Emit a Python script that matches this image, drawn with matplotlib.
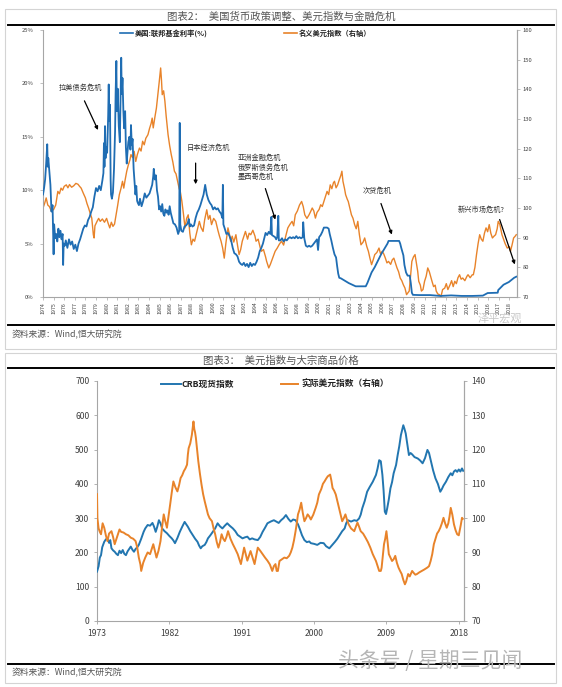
import matplotlib
matplotlib.use('Agg')
import matplotlib.pyplot as plt
from matplotlib.patches import Rectangle
from matplotlib.lines import Line2D

plt.rcParams['font.family'] = ['Noto Sans CJK SC', 'DejaVu Sans']

# ---------------- Data: chart 2 (Fed funds rate & nominal dollar index) ----------------
fed_year = [1974.0, 1974.1, 1974.2, 1974.3, 1974.4, 1974.45, 1974.5, 1974.6, 1974.7, 1974.8, 1974.9,
            1975.0, 1975.05, 1975.15, 1975.25, 1975.35, 1975.45, 1975.55, 1975.65, 1975.75, 1975.85,
            1975.9, 1975.95, 1976.05, 1976.15, 1976.3, 1976.45, 1976.6, 1976.75, 1976.9, 1977.05,
            1977.2, 1977.35, 1977.5, 1977.65, 1977.8, 1977.95, 1978.1, 1978.25, 1978.4, 1978.55,
            1978.7, 1978.85, 1979.0, 1979.15, 1979.3, 1979.45, 1979.6, 1979.7, 1979.75, 1979.8,
            1979.85, 1979.9, 1979.95, 1980.05, 1980.15, 1980.2, 1980.25, 1980.32, 1980.38, 1980.42,
            1980.5, 1980.6, 1980.7, 1980.8, 1980.85, 1980.92, 1980.97, 1981.05, 1981.15, 1981.25,
            1981.32, 1981.38, 1981.43, 1981.5, 1981.58, 1981.65, 1981.75, 1981.82, 1981.9, 1981.95,
            1982.05, 1982.15, 1982.25, 1982.3, 1982.38, 1982.45, 1982.55, 1982.65, 1982.72, 1982.8,
            1982.88, 1982.95, 1983.05, 1983.15, 1983.3, 1983.45, 1983.6, 1983.75, 1983.9, 1984.05,
            1984.2, 1984.3, 1984.4, 1984.45, 1984.55, 1984.65, 1984.75, 1984.85, 1984.95, 1985.05,
            1985.15, 1985.25, 1985.35, 1985.45, 1985.55, 1985.65, 1985.75, 1985.85, 1985.95, 1986.05,
            1986.15, 1986.3, 1986.45, 1986.6, 1986.75, 1986.85, 1986.9, 1986.95, 1987.05, 1987.2,
            1987.35, 1987.5, 1987.65, 1987.75, 1987.85, 1987.95, 1988.1, 1988.25, 1988.4, 1988.55,
            1988.7, 1988.85, 1989.0, 1989.15, 1989.3, 1989.45, 1989.6, 1989.75, 1989.9, 1990.05,
            1990.2, 1990.35, 1990.5, 1990.65, 1990.8, 1990.92, 1990.97, 1991.02, 1991.15, 1991.3,
            1991.45, 1991.6, 1991.75, 1991.9, 1992.05, 1992.2, 1992.35, 1992.5, 1992.65, 1992.8,
            1992.95, 1993.1, 1993.25, 1993.4, 1993.55, 1993.7, 1993.85, 1994.0, 1994.15, 1994.3,
            1994.45, 1994.6, 1994.75, 1994.9, 1995.0, 1995.15, 1995.3, 1995.45, 1995.55, 1995.6,
            1995.75, 1995.9, 1996.0, 1996.1, 1996.2, 1996.25, 1996.4, 1996.55, 1996.7, 1996.85,
            1997.0, 1997.15, 1997.3, 1997.45, 1997.6, 1997.75, 1997.9, 1998.05, 1998.2, 1998.35,
            1998.5, 1998.55, 1998.65, 1998.8, 1998.95, 1999.1, 1999.25, 1999.4, 1999.55, 1999.7,
            1999.85, 1999.95, 2000.05, 2000.2, 2000.35, 2000.5, 2000.65, 2000.8, 2000.95, 2001.05,
            2001.2, 2001.35, 2001.5, 2001.65, 2001.75, 2001.85, 2001.95, 2002.1, 2002.85, 2003.5,
            2004.45, 2004.6, 2004.8, 2005.0, 2005.3, 2005.6, 2005.9, 2006.2, 2006.5, 2006.6,
            2007.6, 2007.7, 2007.8, 2008.0, 2008.1, 2008.25, 2008.4, 2008.6, 2008.7, 2008.8,
            2008.9, 2009.5, 2010.5, 2011.5, 2012.5, 2013.5, 2014.5, 2015.5, 2015.95, 2016.9,
            2016.95, 2017.2, 2017.45, 2017.95, 2018.2, 2018.45, 2018.65]
fed_rate = [9.6, 10.2, 11.0, 12.5, 14.3, 12.2, 13.0, 11.8, 10.5, 8.0, 8.6,
            4.0, 6.8, 5.5, 5.9, 5.2, 6.4, 5.6, 6.2, 5.4, 5.9,
            3.0, 5.0, 4.8, 5.3, 4.6, 5.4, 4.9, 5.2, 4.5, 4.9,
            4.3, 5.0, 5.4, 5.9, 6.4, 6.7, 6.6, 7.2, 7.5, 8.0,
            8.4, 9.4, 10.2, 9.9, 10.4, 10.0, 10.9, 11.6, 14.4, 12.2,
            16.0, 13.0, 14.0, 13.5, 17.0, 19.9, 16.5, 18.0, 11.0, 9.6,
            9.2, 9.8, 12.0, 15.5, 19.0, 22.1, 17.4, 19.5, 16.0, 14.5,
            18.5, 22.4, 19.0, 20.5, 17.5, 15.8, 17.4, 14.0, 12.5, 13.3,
            14.5, 15.0, 13.8, 16.1, 14.2, 14.8, 12.0, 10.5, 9.6, 10.4,
            9.0, 8.8, 8.6, 9.2, 8.5, 9.0, 9.7, 9.3, 9.5, 9.7,
            10.2, 10.5, 11.3, 12.0, 11.0, 11.4, 10.0, 9.4, 8.2, 8.5,
            8.0, 8.7, 7.8, 7.6, 8.2, 7.9, 8.1, 7.7, 8.5, 7.9,
            7.5, 6.9, 6.8, 6.5, 5.9, 6.2, 16.3, 6.8, 6.2, 6.1,
            6.6, 6.7, 6.9, 7.3, 6.6, 6.8, 6.6, 6.7, 7.4, 7.9,
            8.2, 8.6, 9.1, 9.6, 10.5, 9.6, 9.1, 8.8, 8.6, 8.2,
            8.4, 8.2, 8.3, 8.0, 7.8, 7.4, 10.5, 6.8, 6.4, 5.9,
            6.0, 5.7, 5.3, 4.6, 4.1, 4.0, 3.8, 3.3, 3.1, 3.0,
            3.2, 2.9, 3.1, 2.8, 3.2, 2.9, 3.1, 3.0, 3.3, 3.7,
            4.3, 4.6, 5.0, 5.6, 6.0, 5.8, 6.1, 5.9, 7.5, 5.8,
            5.7, 5.6, 5.4, 5.6, 7.6, 5.3, 5.3, 5.5, 5.2, 5.4,
            5.3, 5.5, 5.6, 5.5, 5.6, 5.5, 5.7, 5.5, 5.6, 5.5,
            5.6, 7.0, 5.5, 4.8, 4.7, 4.8, 4.7, 4.8, 5.0, 5.2,
            5.4, 4.4, 5.6, 5.8, 6.1, 6.5, 6.5, 6.5, 6.4, 5.9,
            5.3, 4.6, 4.0, 3.7, 2.9, 2.2, 1.8, 1.75, 1.3, 1.0,
            1.0, 1.3, 1.8, 2.3, 2.8, 3.4, 4.0, 4.5, 5.0, 5.25,
            5.25, 5.0, 4.6, 3.9, 3.0, 2.3, 2.0, 2.0, 1.3, 0.4,
            0.2, 0.18, 0.18, 0.1, 0.15, 0.1, 0.1, 0.13, 0.37, 0.4,
            0.65, 0.9, 1.15, 1.4, 1.6, 1.8, 1.9]

usd_year = [1974.0, 1974.15, 1974.3, 1974.45, 1974.6, 1974.8, 1975.0, 1975.2, 1975.4, 1975.55,
            1975.7, 1975.85, 1976.0, 1976.2, 1976.35, 1976.5, 1976.7, 1976.9, 1977.1, 1977.3,
            1977.45, 1977.6, 1977.8, 1978.0, 1978.15, 1978.3, 1978.45, 1978.6, 1978.75, 1978.82,
            1978.9, 1979.1, 1979.25, 1979.4, 1979.6, 1979.8, 1980.0, 1980.15, 1980.3, 1980.45,
            1980.6, 1980.75, 1980.9, 1981.05, 1981.2, 1981.35, 1981.5, 1981.62, 1981.75, 1981.9,
            1982.05, 1982.2, 1982.3, 1982.45, 1982.6, 1982.75, 1982.9, 1983.1, 1983.25, 1983.4,
            1983.55, 1983.7, 1983.9, 1984.05, 1984.2, 1984.3, 1984.4, 1984.55, 1984.7, 1984.85,
            1984.95, 1985.1, 1985.18, 1985.25, 1985.38, 1985.5, 1985.62, 1985.8, 1985.95, 1986.1,
            1986.25, 1986.4, 1986.55, 1986.7, 1986.85, 1986.95, 1987.1, 1987.25, 1987.4, 1987.55,
            1987.7, 1987.85, 1988.0, 1988.15, 1988.3, 1988.45, 1988.6, 1988.75, 1988.9, 1989.1,
            1989.25, 1989.45, 1989.6, 1989.75, 1989.9, 1990.1, 1990.3, 1990.5, 1990.65, 1990.8,
            1990.95, 1991.1, 1991.25, 1991.45, 1991.6, 1991.7, 1991.85, 1992.0, 1992.2, 1992.35,
            1992.5, 1992.65, 1992.8, 1992.95, 1993.1, 1993.3, 1993.45, 1993.6, 1993.8, 1994.0,
            1994.1, 1994.3, 1994.5, 1994.6, 1994.8, 1995.0, 1995.1, 1995.3, 1995.45, 1995.6,
            1995.75, 1995.9, 1996.1, 1996.3, 1996.5, 1996.7, 1996.9, 1997.1, 1997.3, 1997.5,
            1997.65, 1997.8, 1998.0, 1998.2, 1998.4, 1998.55, 1998.7, 1998.9, 1999.1, 1999.25,
            1999.4, 1999.55, 1999.7, 1999.85, 2000.05, 2000.2, 2000.35, 2000.5, 2000.65, 2000.8,
            2000.95, 2001.1, 2001.25, 2001.4, 2001.5, 2001.65, 2001.8, 2001.95, 2002.1, 2002.2,
            2002.3, 2002.45, 2002.55, 2002.7, 2002.8, 2002.95, 2003.1, 2003.25, 2003.4, 2003.55,
            2003.7, 2003.85, 2004.0, 2004.2, 2004.35, 2004.55, 2004.7, 2004.85, 2005.0, 2005.15,
            2005.3, 2005.5, 2005.7, 2005.85, 2006.0, 2006.15, 2006.3, 2006.45, 2006.6, 2006.8,
            2006.95, 2007.1, 2007.25, 2007.4, 2007.55, 2007.7, 2007.85, 2008.0, 2008.15, 2008.3,
            2008.45, 2008.55, 2008.65, 2008.8, 2008.95, 2009.1, 2009.25, 2009.35, 2009.45, 2009.6,
            2009.7, 2009.85, 2010.0, 2010.15, 2010.3, 2010.45, 2010.6, 2010.7, 2010.85, 2011.0,
            2011.1, 2011.25, 2011.4, 2011.55, 2011.7, 2011.9, 2012.05, 2012.2, 2012.4, 2012.55,
            2012.7, 2012.85, 2013.0, 2013.15, 2013.3, 2013.45, 2013.6, 2013.8, 2014.0, 2014.1,
            2014.3, 2014.5, 2014.6, 2014.75, 2014.9, 2015.05, 2015.2, 2015.35, 2015.5, 2015.65,
            2015.8, 2015.95, 2016.1, 2016.25, 2016.4, 2016.55, 2016.7, 2016.85, 2016.95, 2017.1,
            2017.3, 2017.45, 2017.6, 2017.8, 2018.0, 2018.1, 2018.25, 2018.4, 2018.55, 2018.65]
usd_index = [100, 101.5, 103.4, 101, 100.5, 98.9, 99.5, 101, 105.6, 104.8,
             106.7, 106, 107.3, 107.8, 106.8, 107.9, 107, 107.5, 108.3, 108,
             107.3, 106.7, 105, 103.4, 101.5, 100, 98.2, 96.6, 91, 89.9,
             94, 95.5, 96.5, 95.5, 96.3, 95.2, 96.5, 94.8, 93.3, 95.2,
             93.8, 94.6, 97.7, 101, 104.5, 106.5, 109, 106.7, 109.5, 112.4,
             114.5, 116.2, 118, 117, 119.1, 115.7, 118, 120.2, 119.2, 122.5,
             121.3, 123.5, 124.7, 126.8, 128.5, 130.3, 127, 130.5, 133.7, 138.5,
             142, 147.2, 143, 138.2, 139.5, 136, 131, 124.7, 121, 118,
             115.5, 112.4, 111.5, 109, 106.5, 105.6, 102.3, 98, 93.3, 96.5,
             97.7, 91.5, 87.6, 89.5, 88.8, 91, 93.3, 95.5, 93.5, 92.1,
             96, 99.4, 96.2, 97.5, 94.4, 96.5, 95.5, 92.5, 90.5, 88.8,
             86.5, 83.1, 88, 93.3, 91, 88.8, 90.5, 88.5, 91, 87.5,
             84.3, 86, 88.8, 90.5, 92.1, 89.5, 91.5, 91, 92.5, 90.5,
             88.8, 89.5, 86.5, 85.4, 86, 83.5, 82, 79.8, 81, 82.5,
             84, 85.4, 86.5, 87.8, 88.8, 87.5, 90.5, 93.3, 94.5, 95.5,
             94, 97.7, 99, 101, 102.2, 100.5, 97.7, 96.5, 97.7, 98.8,
             100, 99, 96.6, 98.5, 99.5, 101.1, 100.5, 102.2, 104, 105.6,
             104.5, 107.8, 106.5, 108.5, 109, 106.8, 107.8, 109.5, 111, 112.4,
             109, 106.5, 104.5, 103, 102.2, 100, 97.7, 96.5, 94.4, 93,
             95.5, 91, 87.6, 88.5, 89.9, 87, 85.4, 83, 80.9, 82.5,
             84.3, 85, 86.5, 84.5, 85.4, 84.5, 83.1, 81.5, 82, 81,
             82.5, 83.1, 81.5, 79.8, 78.5, 76.4, 75.5, 74.1, 73, 70.8,
             71.5, 72, 76, 82, 83.5, 84.3, 81, 78.7, 75.3, 74,
             72, 72.5, 75.3, 77, 79.8, 78.5, 76.5, 75.3, 73.5, 74,
             72, 71, 70.8, 70.2, 72.5, 73, 74.5, 72.5, 74.1, 75.5,
             73.5, 75.3, 74.5, 76.5, 77.5, 76, 76.4, 75.5, 77, 77.5,
             76.5, 77.5, 77.5, 80, 84.3, 88, 91, 89.5, 88.8, 91.5,
             93.3, 92, 94.4, 91.5, 89.9, 90.5, 91, 93, 95.5, 94.5,
             91, 89.5, 88, 86.5, 87, 85.4, 87.5, 89.9, 90.5, 91]

year_labels_1 = [str(y) for y in range(1974, 2019)]

# ---------------- Data: chart 3 (CRB spot index & real dollar index) ----------------
crb_year = [1973.0, 1973.2, 1973.35, 1973.5, 1973.65, 1973.8, 1973.9, 1974.1, 1974.3, 1974.5,
            1974.65, 1974.8, 1975.0, 1975.2, 1975.4, 1975.6, 1975.8, 1976.0, 1976.2, 1976.4,
            1976.6, 1976.8, 1977.0, 1977.2, 1977.4, 1977.6, 1977.8, 1978.0, 1978.2, 1978.5,
            1978.8, 1979.0, 1979.3, 1979.6, 1979.9, 1980.1, 1980.3, 1980.5, 1980.7, 1980.9,
            1981.1, 1981.4, 1981.7, 1982.0, 1982.3, 1982.5, 1982.7, 1983.0, 1983.3, 1983.6,
            1983.9, 1984.1, 1984.3, 1984.6, 1984.9, 1985.2, 1985.5, 1985.7, 1985.9, 1986.1,
            1986.4, 1986.6, 1986.8, 1987.1, 1987.4, 1987.7, 1988.0, 1988.3, 1988.6, 1988.9,
            1989.2, 1989.5, 1989.9, 1990.2, 1990.5, 1990.8, 1991.1, 1991.4, 1991.7, 1992.0,
            1992.3, 1992.6, 1993.0, 1993.3, 1993.6, 1993.9, 1994.2, 1994.6, 1995.0, 1995.3,
            1995.6, 1995.9, 1996.2, 1996.5, 1996.8, 1997.1, 1997.4, 1997.7, 1998.0, 1998.2,
            1998.5, 1998.8, 1999.1, 1999.4, 1999.6, 2000.0, 2000.4, 2000.8, 2001.2, 2001.5,
            2001.9, 2002.2, 2002.6, 2002.9, 2003.2, 2003.5, 2003.8, 2004.0, 2004.2, 2004.6,
            2005.0, 2005.3, 2005.6, 2005.8, 2006.0, 2006.3, 2006.6, 2006.9, 2007.3, 2007.7,
            2007.9, 2008.1, 2008.3, 2008.5, 2008.65, 2008.8, 2008.95, 2009.1, 2009.3, 2009.5,
            2009.7, 2009.9, 2010.2, 2010.4, 2010.6, 2010.8, 2011.0, 2011.1, 2011.25, 2011.4,
            2011.6, 2011.8, 2012.0, 2012.2, 2012.5, 2012.9, 2013.2, 2013.5, 2013.8, 2014.1,
            2014.3, 2014.5, 2014.8, 2015.1, 2015.4, 2015.7, 2015.9, 2016.1, 2016.4, 2016.7,
            2017.0, 2017.2, 2017.4, 2017.6, 2017.8, 2018.0, 2018.2, 2018.4, 2018.55]
crb_index = [144, 160, 185, 192, 215, 225, 231, 238, 241, 228,
             236, 212, 206, 202, 196, 192, 205, 198, 207, 196,
             192, 203, 210, 217, 208, 202, 210, 215, 222, 240,
             260, 270, 280, 278, 286, 275, 260, 275, 294, 285,
             270, 262, 256, 248, 241, 235, 227, 242, 260, 275,
             289, 282, 275, 262, 251, 240, 231, 220, 212, 218,
             222, 230, 241, 250, 260, 270, 285, 276, 270, 278,
             285, 278, 270, 262, 251, 246, 241, 244, 246, 238,
             241, 238, 236, 245, 260, 272, 285, 290, 294, 290,
             286, 294, 300, 309, 298, 290, 296, 294, 282, 270,
             250, 236, 230, 232, 227, 225, 222, 228, 227, 218,
             212, 220, 231, 240, 251, 262, 270, 285, 294, 290,
             294, 292, 299, 310, 329, 350, 377, 390, 406, 426,
             445, 469, 466, 426, 380, 319, 312, 329, 355, 387,
             405, 431, 455, 484, 510, 542, 562, 571, 560, 547,
             515, 484, 490, 486, 478, 474, 468, 460, 475, 499,
             490, 470, 440, 416, 400, 377, 385, 395, 406, 420,
             431, 425, 436, 440, 435, 442, 436, 445, 438]

rdx_year = [1973.0, 1973.05, 1973.2, 1973.35, 1973.5, 1973.7, 1973.9, 1974.1, 1974.3, 1974.5,
            1974.8, 1975.0, 1975.2, 1975.5, 1975.8, 1976.0, 1976.3, 1976.6, 1976.9, 1977.2,
            1977.5, 1977.8, 1978.0, 1978.2, 1978.4, 1978.5, 1978.75, 1979.0, 1979.3, 1979.6,
            1979.8, 1980.0, 1980.2, 1980.4, 1980.65, 1980.9, 1981.1, 1981.3, 1981.5, 1981.7,
            1981.9, 1982.1, 1982.3, 1982.5, 1982.75, 1983.0, 1983.2, 1983.4, 1983.6, 1983.8,
            1984.0, 1984.2, 1984.3, 1984.4, 1984.6, 1984.8, 1985.0, 1985.1, 1985.2, 1985.3,
            1985.45, 1985.6, 1985.8, 1986.0, 1986.2, 1986.4, 1986.6, 1986.8, 1987.0, 1987.3,
            1987.5, 1987.7, 1987.9, 1988.1, 1988.3, 1988.5, 1988.7, 1988.9, 1989.1, 1989.3,
            1989.6, 1989.9, 1990.2, 1990.5, 1990.7, 1990.9, 1991.1, 1991.3, 1991.5, 1991.7,
            1991.9, 1992.1, 1992.35, 1992.6, 1992.8, 1993.0, 1993.3, 1993.6, 1993.9, 1994.2,
            1994.5, 1994.8, 1995.0, 1995.2, 1995.35, 1995.5, 1995.7, 1996.0, 1996.3, 1996.6,
            1996.9, 1997.1, 1997.3, 1997.5, 1997.7, 1997.85, 1998.0, 1998.2, 1998.4, 1998.6,
            1998.8, 1999.0, 1999.2, 1999.4, 1999.6, 1999.9, 2000.2, 2000.4, 2000.6, 2000.9,
            2001.1, 2001.3, 2001.5, 2001.7, 2002.0, 2002.15, 2002.3, 2002.5, 2002.7, 2002.9,
            2003.1, 2003.3, 2003.5, 2003.7, 2003.9, 2004.1, 2004.3, 2004.6, 2005.0, 2005.2,
            2005.4, 2005.6, 2005.8, 2006.1, 2006.4, 2006.7, 2007.0, 2007.3, 2007.5, 2007.7,
            2007.9, 2008.1, 2008.3, 2008.4, 2008.55, 2008.7, 2008.85, 2009.0, 2009.15, 2009.3,
            2009.5, 2009.7, 2009.9, 2010.1, 2010.3, 2010.5, 2010.7, 2010.9, 2011.1, 2011.3,
            2011.45, 2011.7, 2011.9, 2012.2, 2012.4, 2012.6, 2012.8, 2013.1, 2013.4, 2013.7,
            2014.1, 2014.3, 2014.5, 2014.7, 2014.9, 2015.1, 2015.3, 2015.5, 2015.7, 2015.9,
            2016.1, 2016.3, 2016.5, 2016.7, 2016.85, 2017.0, 2017.2, 2017.4, 2017.6, 2017.8,
            2018.0, 2018.1, 2018.25, 2018.4, 2018.5]
rdx_index = [107, 100, 97, 96, 95.3, 98.5, 97.2, 95, 93.3, 95.5,
             96.2, 94.5, 92.4, 94.5, 96.7, 96, 95.8, 95.3, 95, 94.3,
             94, 93.3, 91.5, 88.5, 86.5, 84.6, 87, 88.5, 90, 89.5,
             91, 92.4, 90.5, 88.5, 90.5, 93.3, 97.5, 101.1, 99, 97.2,
             100.5, 104, 107.5, 110.7, 109, 107.8, 109.5, 111.7, 112.5, 113.7,
             114.5, 115.6, 118.5, 120.4, 121.8, 124.3, 128.2, 126, 125, 123.4,
             120, 116.6, 113, 109.8, 107, 104.9, 103, 101.1, 100, 99.1,
             97, 95.3, 93, 91.4, 93, 95.3, 94, 93.3, 94.5, 96.2,
             94, 92.4, 91, 89.5, 88, 86.6, 89, 91.4, 89.5, 87.6,
             89, 90.4, 88.5, 86.6, 89, 91.4, 90.5, 89.5, 88.5, 87.6,
             86.5, 84.6, 86, 86.6, 84.6, 84.6, 87.5, 88, 88.5, 88.3,
             89, 90, 91.4, 93.5, 96.2, 98.5, 101.1, 102.5, 104.5, 101.5,
             99.1, 100, 101.1, 100.5, 99.6, 101, 103, 104.5, 106.9, 108.5,
             110, 110.7, 111.5, 112.2, 112.7, 111, 108.8, 108, 106.9, 105,
             103, 101, 99.1, 100, 101.1, 99.5, 98.2, 97, 96.2, 97.5,
             98.7, 97.5, 96.2, 95.5, 94.3, 93, 91.4, 89.5, 88.5, 87.5,
             86, 84.6, 84.6, 85.5, 89, 92.4, 94, 96.2, 93, 89.5,
             88.5, 87.5, 88, 89, 87, 85.6, 84.6, 83.7, 82, 80.7,
             81.5, 83.7, 83, 84.6, 84, 83.5, 83.7, 84.2, 84.6, 85,
             85.6, 86, 87.5, 89.5, 92.4, 94, 95.5, 96.2, 97.2, 98.5,
             100.1, 98.5, 97.2, 98.5, 100.5, 103, 101, 98.2, 96.5, 95.3,
             95, 96.2, 98, 100.1, 99.8]

year_ticks_2 = [1973, 1982, 1991, 2000, 2009, 2018]

# ---------------- Figure setup ----------------
W, H = 562, 687
fig = plt.figure(figsize=(W / 100, H / 100), dpi=100)
fig.patch.set_facecolor('white')

BLUE = '#1f6db3'
BLUE2 = '#2276b0'
ORANGE = '#e8832a'
GREY = '#a6a6a6'
TXT = '#404040'


def rect(x0, y0, x1, y1):
    return [x0 / W, 1 - y1 / H, (x1 - x0) / W, (y1 - y0) / H]


def fx(x):
    return x / W


def fy(y):
    return 1 - y / H


def hline(x0, x1, y, color='black', lw=1.4):
    fig.add_artist(Line2D([fx(x0), fx(x1)], [fy(y), fy(y)], color=color, lw=lw))


# panel frames
for (x0, y0, x1, y1) in [(5, 9, 556, 349), (5, 353, 556, 683)]:
    fig.add_artist(Rectangle((fx(x0), fy(y1)), fx(x1) - fx(x0), fy(y0) - fy(y1),
                             fill=False, edgecolor='#d4d4d4', lw=0.8))

# ---------------- Panel 1 ----------------
fig.text(fx(281), fy(17), '图表2：  美国货币政策调整、美元指数与金融危机', ha='center', va='center',
         fontsize=7.5, color='#555555')
hline(8, 554, 24.5)

ax1 = fig.add_axes(rect(43, 30, 517, 297))
ax1.plot(fed_year, fed_rate, color=BLUE, lw=1.3, zorder=3)
ax1.set_xlim(1974, 2018.72)
ax1.set_ylim(0, 25)
ax1.set_yticks([0, 5, 10, 15, 20, 25])
ax1.set_yticklabels([f'{v}%' for v in [0, 5, 10, 15, 20, 25]])
ax1.set_xticks(list(range(1974, 2019)))
ax1.set_xticklabels(year_labels_1, rotation=90)
ax1.tick_params(axis='x', labelsize=3.8, colors=TXT, length=2, width=0.5, color=GREY, pad=1.5)
ax1.tick_params(axis='y', labelsize=4.2, colors=TXT, length=2, width=0.5, color=GREY, pad=5)
for s in ['top']:
    ax1.spines[s].set_visible(False)
for s in ['left', 'bottom', 'right']:
    ax1.spines[s].set_color(GREY)
    ax1.spines[s].set_linewidth(0.8)

ax1b = ax1.twinx()
ax1b.plot(usd_year, usd_index, color=ORANGE, lw=1.0, zorder=2)
ax1b.set_ylim(70, 160)
ax1b.set_yticks(list(range(70, 161, 10)))
ax1b.tick_params(axis='y', labelsize=4.2, colors=TXT, length=2, width=0.5, color=GREY, pad=2)
ax1b.spines['top'].set_visible(False)
ax1b.spines['right'].set_color(GREY)
ax1b.spines['right'].set_linewidth(0.8)
ax1b.spines['left'].set_visible(False)
ax1b.spines['bottom'].set_visible(False)
ax1.set_zorder(ax1b.get_zorder() + 1)
ax1.patch.set_visible(False)

# legend panel 1
fig.add_artist(Line2D([fx(120), fx(133)], [fy(33), fy(33)], color=BLUE, lw=1.2))
fig.text(fx(135), fy(33), '美国:联邦基金利率(%)', ha='left', va='center', fontsize=5.2,
         fontweight='bold', color='#222222')
fig.add_artist(Line2D([fx(284), fx(297)], [fy(33), fy(33)], color=ORANGE, lw=1.2))
fig.text(fx(299), fy(33), '名义美元指数（右轴）', ha='left', va='center', fontsize=5.2,
         fontweight='bold', color='#222222')

# annotations panel 1
ann_kw = dict(fontsize=5.2, color='#333333')
arr_kw = dict(arrowstyle='-|>', color='black', lw=0.9, mutation_scale=5)
ax1.text(1977.5, 19.6, '拉美债务危机', ha='center', va='center', **ann_kw)
ax1.annotate('', xy=(1979.3, 15.4), xytext=(1977.8, 18.6), arrowprops=arr_kw)
ax1.text(1989.6, 14.0, '日本经济危机', ha='center', va='center', **ann_kw)
ax1.annotate('', xy=(1988.4, 10.3), xytext=(1988.4, 12.8), arrowprops=arr_kw)
ax1.text(1992.4, 12.1, '亚洲金融危机\n俄罗斯债务危机\n墨西哥危机', ha='left', va='center',
         linespacing=1.25, **ann_kw)
ax1.annotate('', xy=(1996.0, 7.0), xytext=(1994.9, 10.4), arrowprops=arr_kw)
ax1.text(2005.5, 9.9, '次贷危机', ha='center', va='center', **ann_kw)
ax1.annotate('', xy=(2007.0, 5.6), xytext=(2005.8, 9.0), arrowprops=arr_kw)
ax1.text(2015.3, 8.2, '新兴市场危机?', ha='center', va='center', **ann_kw)
ax1.annotate('', xy=(2018.6, 2.8), xytext=(2017.0, 7.5), arrowprops=arr_kw)

hline(8, 554, 324.5)
fig.text(fx(12), fy(335), '资料来源：Wind,恒大研究院', ha='left', va='center', fontsize=6.3,
         style='italic', color='#555555')
fig.text(fx(500), fy(318), '泽平宏观', ha='center', va='center', fontsize=8, color='#c8c8c8')

# ---------------- Panel 2 ----------------
fig.text(fx(281), fy(361), '图表3：  美元指数与大宗商品价格', ha='center', va='center',
         fontsize=7.5, color='#555555')
hline(8, 554, 368)

ax2 = fig.add_axes(rect(97, 381, 464, 621))
ax2.plot(crb_year, crb_index, color=BLUE2, lw=1.4, zorder=3)
ax2.set_xlim(1973, 2018.65)
ax2.set_ylim(0, 700)
ax2.set_yticks(list(range(0, 701, 100)))
ax2.set_xticks(year_ticks_2)
ax2.set_xticklabels([str(y) for y in year_ticks_2])
ax2.tick_params(axis='both', labelsize=6.2, colors=TXT, length=2.5, width=0.6, color=GREY)
ax2.tick_params(axis='y', pad=3)
ax2.tick_params(axis='x', pad=3)
ax2.spines['top'].set_visible(False)
for s in ['left', 'bottom', 'right']:
    ax2.spines[s].set_color(GREY)
    ax2.spines[s].set_linewidth(0.8)

ax2b = ax2.twinx()
ax2b.plot(rdx_year, rdx_index, color=ORANGE, lw=1.4, zorder=2)
ax2b.set_ylim(70, 140)
ax2b.set_yticks(list(range(70, 141, 10)))
ax2b.tick_params(axis='y', labelsize=6.2, colors=TXT, length=2.5, width=0.6, color=GREY, pad=3)
ax2b.spines['top'].set_visible(False)
ax2b.spines['right'].set_color(GREY)
ax2b.spines['right'].set_linewidth(0.8)
ax2b.spines['left'].set_visible(False)
ax2b.spines['bottom'].set_visible(False)

fig.add_artist(Line2D([fx(161), fx(181)], [fy(384), fy(384)], color=BLUE2, lw=1.4))
fig.text(fx(182), fy(384), 'CRB现货指数', ha='left', va='center', fontsize=6.3,
         fontweight='bold', color='#222222')
fig.add_artist(Line2D([fx(281), fx(298)], [fy(384), fy(384)], color=ORANGE, lw=1.4))
fig.text(fx(301), fy(384), '实际美元指数（右轴）', ha='left', va='center', fontsize=6.3,
         fontweight='bold', color='#222222')

hline(8, 554, 664)
fig.text(fx(12), fy(673), '资料来源：Wind,恒大研究院', ha='left', va='center', fontsize=6.3,
         style='italic', color='#555555')
fig.text(fx(430), fy(661), '头条号 / 星期三见闻', ha='center', va='center', fontsize=15,
         color='#b5b5b5')

fig.savefig('out.png', dpi=100)
